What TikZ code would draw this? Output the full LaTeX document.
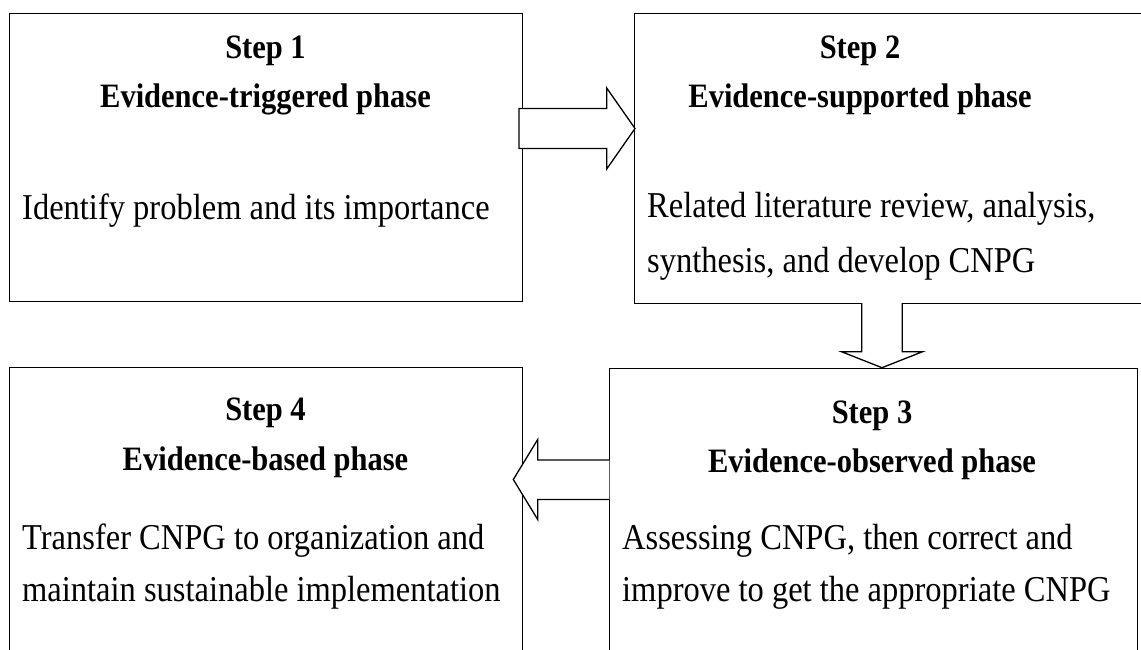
\documentclass[tikz,border=0pt]{standalone}
\usepackage{fontspec}
\setmainfont{Liberation Serif}
\newcommand\tallText[1]{\scalebox{1}[1.12]{#1}}
\begin{document}
\begin{tikzpicture}[x=1pt,y=-1pt,
  box/.style={draw, line width=1.3pt, inner sep=0pt, anchor=north west},
  blockarrow/.style={draw, line width=1.3pt, fill=white, line join=miter},
  headtext/.style={font=\fontsize{30.5}{36}\selectfont\bfseries, anchor=base, inner sep=0pt},
  bodytext/.style={font=\fontsize{32.5}{38}\selectfont, anchor=base west, inner sep=0pt}]
\useasboundingbox (0,0) rectangle (1141,649);
% boxes
\node[box, minimum width=513pt, minimum height=288pt] (b1) at (9,13) {};
\node[box, minimum width=520pt, minimum height=290pt] (b2) at (634,13) {};
\node[box, minimum width=528pt, minimum height=300pt] (b3) at (609,368) {};
\node[box, minimum width=513pt, minimum height=300pt] (b4) at (9,367) {};
% block arrows
\draw[blockarrow] (519,108.5) -- (606.7,108.5) -- (606.7,88) -- (635,128.5) -- (606.7,169) -- (606.7,148.5) -- (519,148.5) -- cycle;
\draw[blockarrow] (861.7,303) -- (861.7,351.7) -- (841.5,351.7) -- (882,367.7) -- (922.5,351.7) -- (902.3,351.7) -- (902.3,303);
\draw[blockarrow] (609.3,460) -- (537.7,460) -- (537.7,439.5) -- (513.3,479.5) -- (537.7,519.5) -- (537.7,499.5) -- (609.3,499.5);
% texts box 1
\node[headtext] (s1) at (265.5,58) {\tallText{Step 1}};
\node[headtext] (p1) at (265.5,107) {\tallText{Evidence-triggered phase}};
\node[bodytext] (t1) at (22,219) {\tallText{Identify problem and its importance}};
% box 2
\node[headtext] (s2) at (860,58) {\tallText{Step 2}};
\node[headtext] (p2) at (860,107) {\tallText{Evidence-supported phase}};
\node[bodytext] (t2a) at (647,217) {\tallText{Related literature review, analysis,}};
\node[bodytext] (t2b) at (647,272) {\tallText{synthesis, and develop CNPG}};
% box 3
\node[headtext] (s3) at (872,423) {\tallText{Step 3}};
\node[headtext] (p3) at (872,472) {\tallText{Evidence-observed phase}};
\node[bodytext] (t3a) at (622,549) {\tallText{Assessing CNPG, then correct and}};
\node[bodytext] (t3b) at (622,601) {\tallText{improve to get the appropriate CNPG}};
% box 4
\node[headtext] (s4) at (265.5,420) {\tallText{Step 4}};
\node[headtext] (p4) at (265.5,470) {\tallText{Evidence-based phase}};
\node[bodytext] (t4a) at (22,549) {\tallText{Transfer CNPG to organization and}};
\node[bodytext] (t4b) at (22,601) {\tallText{maintain sustainable implementation}};
\end{tikzpicture}
\end{document}
